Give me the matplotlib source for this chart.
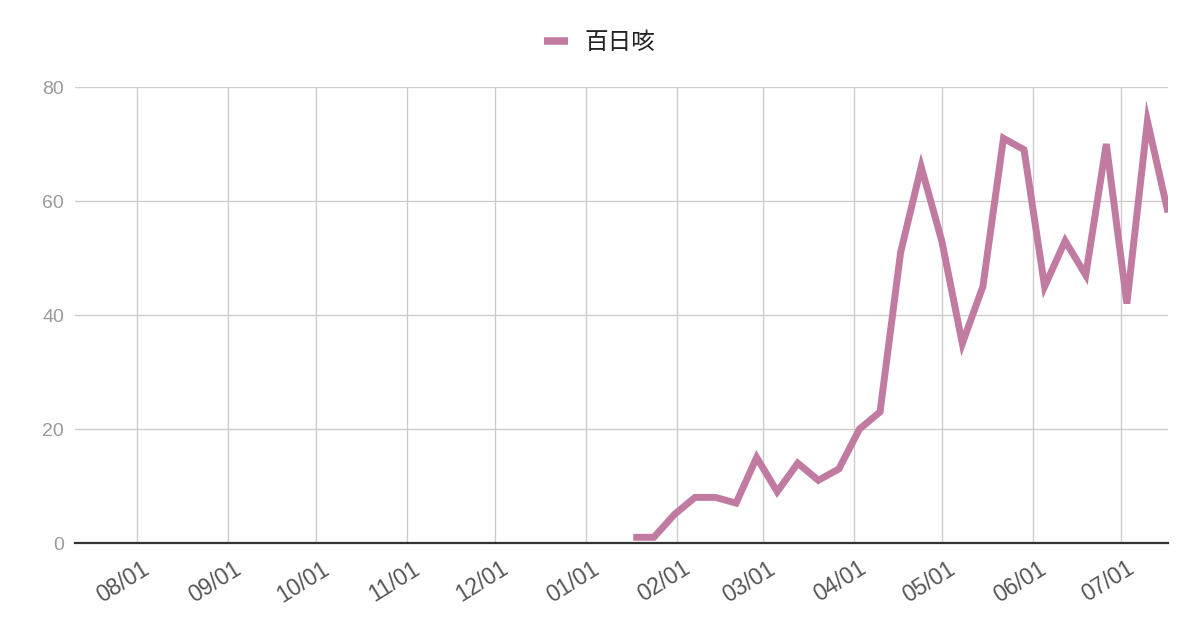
import matplotlib
matplotlib.use("Agg")
import matplotlib.pyplot as plt
import matplotlib.dates as mdates
from matplotlib.transforms import ScaledTranslation
import pandas as pd

plt.rcParams['font.family'] = ['Liberation Sans', 'Noto Sans CJK JP', 'DejaVu Sans']

series_name = "百日咳"
dates = ["2024-01-17", "2024-01-24", "2024-01-31", "2024-02-07", "2024-02-14",
         "2024-02-21", "2024-02-28", "2024-03-06", "2024-03-13", "2024-03-20",
         "2024-03-27", "2024-04-03", "2024-04-10", "2024-04-17", "2024-04-24",
         "2024-05-01", "2024-05-08", "2024-05-15", "2024-05-22", "2024-05-29",
         "2024-06-05", "2024-06-12", "2024-06-19", "2024-06-26", "2024-07-03",
         "2024-07-10", "2024-07-17"]
values = [1, 1, 5, 8, 8, 7, 15, 9, 14, 11, 13, 20, 23, 51, 66, 53, 35, 45,
          71, 69, 45, 53, 47, 70, 42, 74, 58]
month_ticks = ["2023-08-01", "2023-09-01", "2023-10-01", "2023-11-01",
               "2023-12-01", "2024-01-01", "2024-02-01", "2024-03-01",
               "2024-04-01", "2024-05-01", "2024-06-01", "2024-07-01"]
y_ticks = [0, 20, 40, 60, 80]
x_start = "2023-07-11"
x_end = "2024-07-17"

x = pd.to_datetime(dates)

fig = plt.figure(figsize=(12, 6.26), dpi=100)
ax = fig.add_axes([75/1200, (626-543)/626, 1093/1200, (543-87)/626])

ax.plot(x, values, color="#c27ba0", lw=5.0, solid_joinstyle="miter",
        solid_capstyle="butt", label=series_name, zorder=3)

ax.set_xlim(pd.Timestamp(x_start), pd.Timestamp(x_end))
ax.set_ylim(0, 80)
ax.set_yticks(y_ticks)
ax.set_xticks(pd.to_datetime(month_ticks))
ax.xaxis.set_major_formatter(mdates.DateFormatter("%m/%d"))

ax.grid(True, color="#cccccc", lw=1.0)
ax.set_axisbelow(True)
for s in ["left", "right", "top"]:
    ax.spines[s].set_visible(False)
ax.spines["bottom"].set_color("#333333")
ax.spines["bottom"].set_linewidth(1.6)
ax.spines["bottom"].set_zorder(2.5)

ax.tick_params(axis="both", length=0)
ax.tick_params(axis="y", labelsize=14, labelcolor="#9a9a9a", pad=8)
ax.tick_params(axis="x", labelsize=16.5, labelcolor="#555555", pad=17)

offset = ScaledTranslation(8/72, 0, fig.dpi_scale_trans)
for lab in ax.get_xticklabels():
    lab.set_rotation(32)
    lab.set_ha("right")
    lab.set_va("center")
    lab.set_rotation_mode("anchor")
    lab.set_transform(lab.get_transform() + offset)

leg = fig.legend(loc="center", bbox_to_anchor=(0.5, 1 - 43/626), frameon=False,
                 fontsize=17, handlelength=1.0, handletextpad=0.7)
for h in leg.get_lines():
    h.set_linewidth(5.4)
for t in leg.get_texts():
    t.set_color("#222222")

fig.savefig("out.png", dpi=100)
